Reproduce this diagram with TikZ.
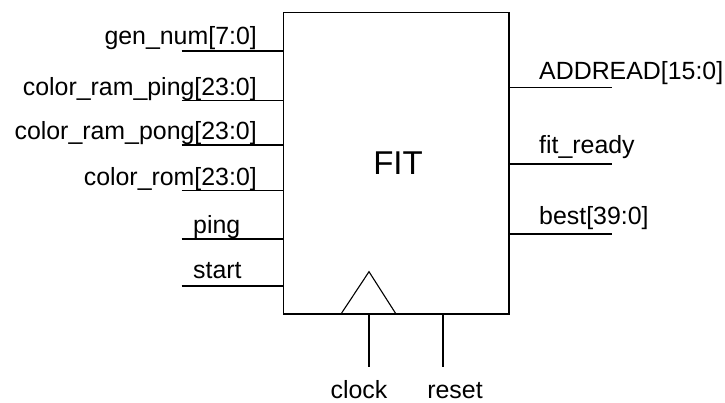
\documentclass[tikz,border=0pt]{standalone}
\usepackage{fontspec}
\setmainfont{Liberation Sans}
\begin{document}
\begin{tikzpicture}[x=1pt,y=-1pt,
  wire/.style={line width=1.1pt, line cap=butt},
  block/.style={draw, line width=1.3pt, minimum width=225.5pt, minimum height=301.5pt,
    inner sep=0pt},
  sig/.style={inner sep=0pt, font=\fontsize{24.9}{29}\selectfont}]
\useasboundingbox (0,0) rectangle (725,403);

% the FIT block
\node[block] (fit) at (396.25,163.25) {};
\node[inner sep=0pt, font=\fontsize{33}{38}\selectfont, anchor=base] (fitname) at (398,175) {FIT};

% input ports (free ends on the left)
\coordinate (i1) at (181.5,51);
\coordinate (i2) at (181.5,100.7);
\coordinate (i3) at (181.5,145);
\coordinate (i4) at (181.5,190.5);
\coordinate (i5) at (181.5,239);
\coordinate (i6) at (181.5,286);
\foreach \p in {i1,i2,i3,i4,i5,i6}
  \draw[wire] (\p) -- (\p -| fit.west);

\node[sig, anchor=base east] (l1) at (257,44.5) {gen\_num[7:0]};
\node[sig, anchor=base east] (l2) at (257,95.5) {color\_ram\_ping[23:0]};
\node[sig, anchor=base east] (l3) at (257,140) {color\_ram\_pong[23:0]};
\node[sig, anchor=base east] (l4) at (257,186) {color\_rom[23:0]};
\node[sig, anchor=base west] (l5) at (193,233.5) {ping};
\node[sig, anchor=base west] (l6) at (193,278.5) {start};

% output ports (free ends on the right)
\coordinate (o1) at (611.5,87.5);
\coordinate (o2) at (611.5,164);
\coordinate (o3) at (611.5,234);
\foreach \p in {o1,o2,o3}
  \draw[wire] (\p -| fit.east) -- (\p);

\node[sig, anchor=base west] (r1) at (539,79.5) {ADDREAD[15:0]};
\node[sig, anchor=base west] (r2) at (539,153.5) {fit\_ready};
\node[sig, anchor=base west] (r3) at (539,225) {best[39:0]};

% clock edge marker
\draw[line width=1.1pt, line join=miter] (341,314) -- (369,271.7) -- (396,314);

% clock and reset pins
\coordinate (ck) at (369,366.5);
\coordinate (rs) at (443,366.5);
\draw[wire] (ck |- fit.south) -- (ck);
\draw[wire] (rs |- fit.south) -- (rs);
\node[sig, anchor=base] (cl) at (359,398) {clock};
\node[sig, anchor=base] (rl) at (455,398) {reset};
\end{tikzpicture}
\end{document}
